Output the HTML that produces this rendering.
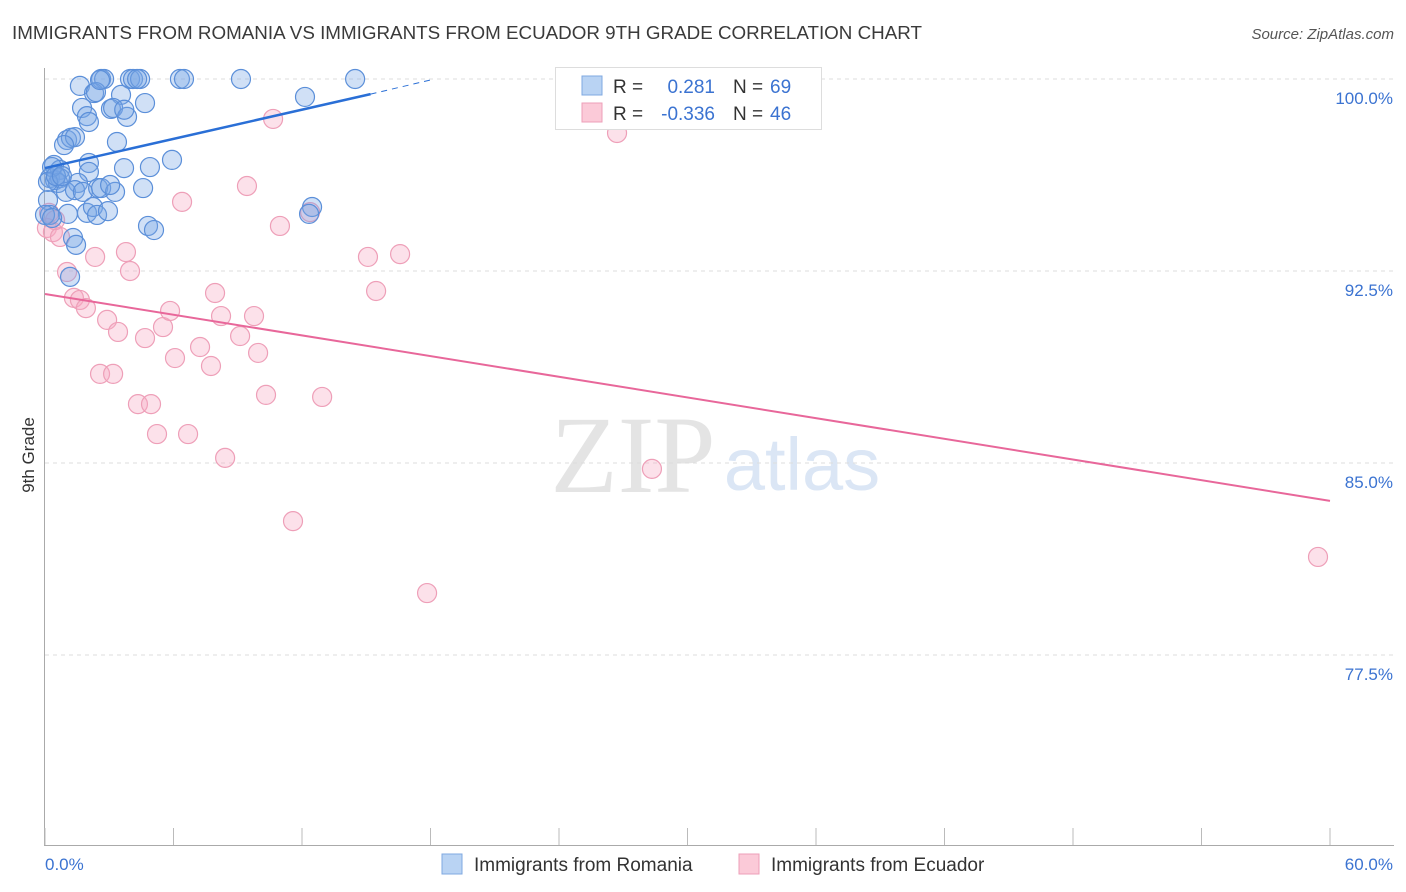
<!DOCTYPE html>
<html><head><meta charset="utf-8"><style>
body{margin:0;background:#fff;font-family:"Liberation Sans",sans-serif;}
svg{display:block}
</style></head><body>
<svg id="chart" width="1406" height="892" viewBox="0 0 1406 892" xmlns="http://www.w3.org/2000/svg">
<text x="12" y="39" font-size="18" fill="#3a3a3a" textLength="910" lengthAdjust="spacingAndGlyphs">IMMIGRANTS FROM ROMANIA VS IMMIGRANTS FROM ECUADOR 9TH GRADE CORRELATION CHART</text>
<text x="1394" y="39" font-size="15" fill="#555" text-anchor="end" font-style="italic">Source: ZipAtlas.com</text>
<g>
<text x="633" y="492" font-size="110" fill="#e4e4e4" font-family="Liberation Serif,serif" text-anchor="middle">ZIP</text>
<text x="802" y="490" font-size="74" fill="#dbe6f5" text-anchor="middle">atlas</text>
</g>
<g id="grid"></g>
<g id="axes"></g>
<g id="marks"></g>
<text transform="translate(34,455) rotate(-90)" font-size="17" fill="#333" text-anchor="middle">9th Grade</text>
<g>
<rect x="555.5" y="67.5" width="266" height="62" fill="#fff" stroke="#ddd"/>
<rect x="582" y="76" width="20" height="19" fill="#b9d3f3" stroke="#7fa8e0"/>
<rect x="582" y="103" width="20" height="19" fill="#fbcad8" stroke="#ee9fb8"/>
<text x="613" y="93" font-size="19" fill="#333">R =</text>
<text x="715" y="93" font-size="19" fill="#3b73d1" text-anchor="end">0.281</text>
<text x="733" y="93" font-size="19" fill="#333">N =</text>
<text x="770" y="93" font-size="19" fill="#3b73d1">69</text>
<text x="613" y="120" font-size="19" fill="#333">R =</text>
<text x="715" y="120" font-size="19" fill="#3b73d1" text-anchor="end">-0.336</text>
<text x="733" y="120" font-size="19" fill="#333">N =</text>
<text x="770" y="120" font-size="19" fill="#3b73d1">46</text>
</g>
<g>
<rect x="442" y="854" width="20" height="20" fill="#b9d3f3" stroke="#7fa8e0"/>
<text x="474" y="871" font-size="19" fill="#333">Immigrants from Romania</text>
<rect x="739" y="854" width="20" height="20" fill="#fbcad8" stroke="#ee9fb8"/>
<text x="771" y="871" font-size="19" fill="#333">Immigrants from Ecuador</text>
</g>
</svg>
<script>
const blueX=[1.63,2.62,2.76,3.97,4.11,4.44,4.30,6.30,6.49,9.15,14.48,12.14,2.29,2.38,3.55,4.67,1.73,3.08,3.18,1.96,2.05,3.83,3.36,1.03,1.21,1.40,0.89,0.42,0.70,2.05,2.05,3.69,4.90,5.93,0.23,0.47,0.70,0.61,1.54,0.98,1.40,1.77,2.48,2.62,3.27,4.58,0.14,0.23,1.07,1.96,2.24,2.43,2.94,4.81,5.09,12.47,12.33,1.31,1.45,1.17,0.33,0.14,0.51,0.79,0,0.33,3.04,2.57,3.70];
const blueY=[99.73,100,100,100,100,100,100,100,100,100,100,99.30,99.45,99.49,99.38,99.06,98.87,98.83,98.87,98.55,98.32,98.52,97.54,97.62,97.70,97.73,97.42,96.64,96.45,96.72,96.37,96.52,96.56,96.84,96.13,96.05,96.13,95.94,95.94,95.59,95.66,95.59,95.74,95.74,95.59,95.74,95.27,94.69,94.73,94.77,95.00,94.69,94.84,94.26,94.10,95.00,94.73,93.79,93.52,92.27,96.56,95.98,96.21,96.21,94.69,94.57,95.86,99.96,98.80];
const pinkX=[0.09,0.37,0.70,0.19,0.47,1.03,2.34,3.78,3.97,1.35,1.63,1.91,2.90,3.41,4.67,5.51,5.84,6.07,6.40,7.24,7.75,7.94,8.22,9.11,9.76,9.95,10.32,9.43,10.65,10.97,11.58,12.38,12.94,15.08,15.46,16.58,17.84,26.71,28.34,59.44,2.57,3.18,4.34,4.95,5.23,6.68,8.41];
const pinkY=[94.18,94.02,93.83,94.77,94.49,92.46,93.05,93.24,92.50,91.45,91.37,91.05,90.59,90.12,89.88,90.31,90.94,89.10,95.20,89.53,88.79,91.64,90.74,89.96,90.74,89.30,87.66,95.82,98.44,94.26,82.73,94.80,87.58,93.05,91.72,93.16,79.92,97.89,84.77,81.33,88.48,88.48,87.30,87.30,86.13,86.13,85.20];
const yTicks=[100,92.5,85,77.5];
const yTickLabels=["100.0%","92.5%","85.0%","77.5%"];
const xTicks=[0,6,12,18,24,30,36,42,48,54,60];
const blueTrend=[[0,96.52],[15.2,99.41]];
const blueTrendDash=[[15.2,99.41],[18.2,100]];
const pinkTrend=[[0,91.6],[60,83.52]];

const NS="http://www.w3.org/2000/svg";
const sx=v=>45+v/60*1285;
const sy=v=>79+(100-v)*25.6;
function mk(parent,tag,attrs){const e=document.createElementNS(NS,tag);for(const k in attrs)e.setAttribute(k,attrs[k]);document.getElementById(parent).appendChild(e);return e;}
yTicks.forEach((t,i)=>{
  const g=mk('grid','line',{x1:45,x2:1394,y1:sy(t),y2:sy(t),stroke:'#ddd','stroke-dasharray':'4,4'});
  
  
  const l=mk('axes','text',{x:1393,y:sy(t)+25,'font-size':17,fill:'#3b73d1','text-anchor':'end'});
  l.textContent=yTickLabels[i];
  
  
});
const ya=mk('axes','line',{x1:44.5,x2:44.5,y1:68,y2:845,stroke:'#aaa'});


const xa=mk('axes','line',{x1:44,x2:1394,y1:845.5,y2:845.5,stroke:'#aaa'});


xTicks.forEach(t=>{
  const tk=mk('axes','line',{x1:sx(t),x2:sx(t),y1:828,y2:845,stroke:'#bbb'});
  
  
});
const xl0=mk('axes','text',{x:45,y:870,'font-size':17,fill:'#3b73d1'});xl0.textContent=xTicks[0].toFixed(1)+'%';


const xl1=mk('axes','text',{x:1393,y:870,'font-size':17,fill:'#3b73d1','text-anchor':'end'});xl1.textContent=xTicks[xTicks.length-1].toFixed(1)+'%';



pinkX.forEach((x,i)=>{
  const c=mk('marks','circle',{cx:sx(x),cy:sy(pinkY[i]),r:9.5,fill:'rgba(246,170,196,0.35)',stroke:'#ee9fb8','stroke-width':1.2});
  
  
});
blueX.forEach((x,i)=>{
  const c=mk('marks','circle',{cx:sx(x),cy:sy(blueY[i]),r:9.5,fill:'rgba(120,165,230,0.35)',stroke:'#5b8fd9','stroke-width':1.2});
  
  
});
const bt=mk('marks','line',{x1:sx(blueTrend[0][0]),y1:sy(blueTrend[0][1]),x2:sx(blueTrend[1][0]),y2:sy(blueTrend[1][1]),stroke:'#2a6fd6','stroke-width':2.5});


const bd=mk('marks','line',{x1:sx(blueTrendDash[0][0]),y1:sy(blueTrendDash[0][1]),x2:sx(blueTrendDash[1][0]),y2:sy(blueTrendDash[1][1]),stroke:'#2a6fd6','stroke-width':1,'stroke-dasharray':'6,5'});


const pt=mk('marks','line',{x1:sx(pinkTrend[0][0]),y1:sy(pinkTrend[0][1]),x2:sx(pinkTrend[1][0]),y2:sy(pinkTrend[1][1]),stroke:'#e8679a','stroke-width':2});


</script>
</body></html>
